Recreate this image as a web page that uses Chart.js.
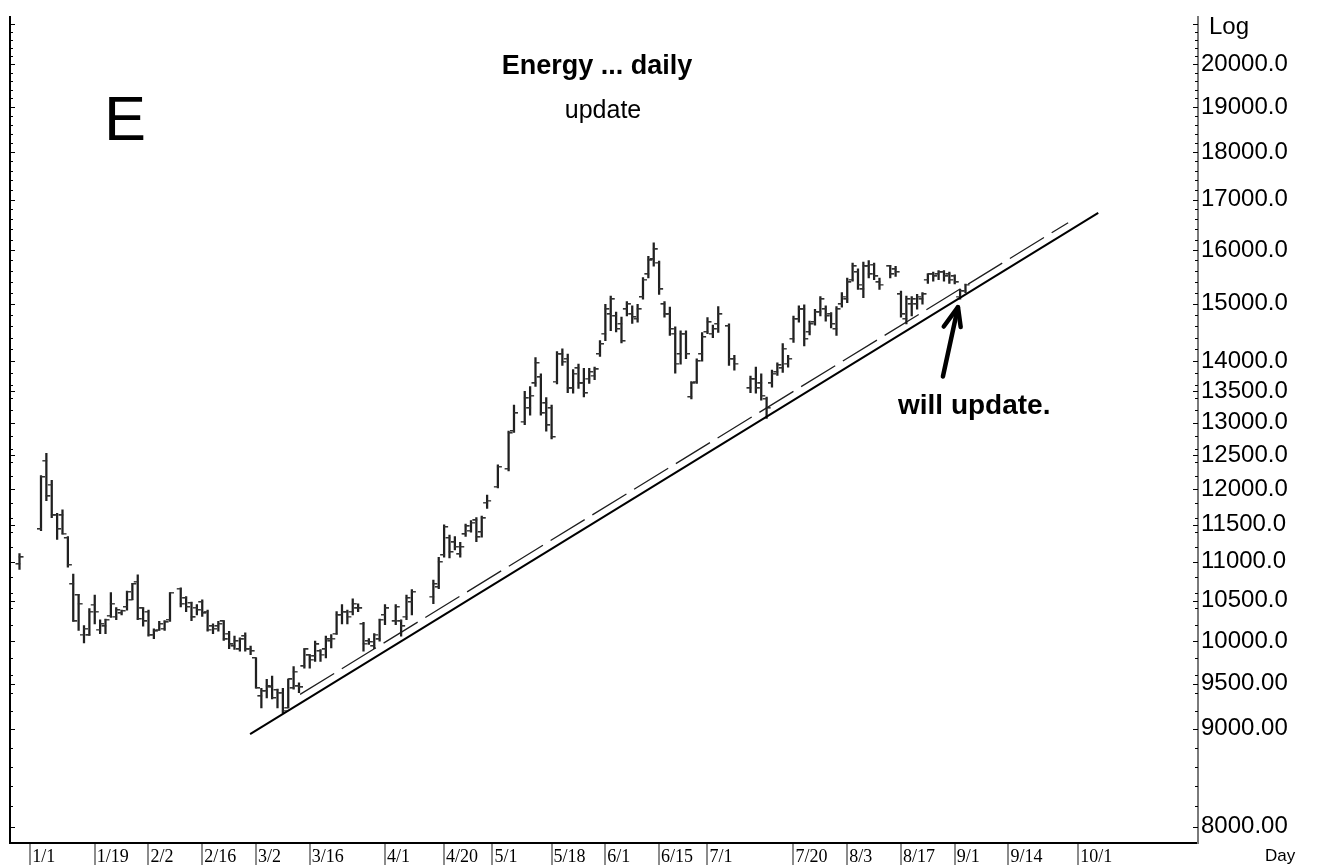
<!DOCTYPE html>
<html><head><meta charset="utf-8">
<script src="https://cdn.jsdelivr.net/npm/chart.js@4.4.1/dist/chart.umd.min.js"></script>
<style>html,body{margin:0;padding:0;background:#fff}canvas{display:block}</style>
</head><body>
<canvas id="c" width="1326" height="865"></canvas>
<script>
// ---- data (trading-day slot index, OHLC) ----
const slots = [0,4,5,6,7,8,9,10,11,12,13,14,15,16,17,18,19,20,21,22,23,24,25,26,27,28,30,31,32,33,34,35,36,37,38,39,40,41,42,43,44,45,46,47,48,49,50,51,52,53,54,55,56,57,58,59,60,61,62,63,64,65,66,67,68,70,71,72,73,77,78,79,80,81,82,83,84,85,86,87,89,91,92,94,95,96,97,98,99,100,101,102,103,104,105,106,107,108,109,110,111,112,113,114,115,116,117,118,119,120,121,122,123,124,125,126,127,128,129,130,132,133,136,137,138,139,140,141,142,143,144,145,146,147,148,149,150,151,152,153,154,155,156,157,158,159,160,162,163,164,165,166,167,168,169,170,171,172,173,174,175,176];
const highs = [11110,12200,12530,12130,11660,11710,11340,10840,10580,10190,10400,10570,10260,10270,10600,10410,10380,10620,10720,10830,10410,10380,10150,10240,10250,10600,10660,10550,10480,10450,10510,10380,10210,10240,10250,10120,10060,10040,10100,9940,9800,9450,9550,9590,9440,9450,9550,9700,9510,9910,9840,10000,9900,10060,10080,10360,10450,10380,10520,10460,10230,10030,10090,10270,10450,10450,10260,10570,10640,10760,11060,11500,11360,11340,11260,11510,11560,11600,11620,11920,12360,12870,13280,13500,13580,14060,13790,13400,13280,14160,14210,14120,13860,13950,13880,13880,13900,14350,14990,15140,14850,14760,15040,14960,14990,15480,15880,16140,15790,15040,14940,14590,14520,14520,13660,14040,14490,14750,14620,14950,14640,14100,13750,13900,13790,13410,13850,13970,14300,14100,14780,14960,14980,14690,14900,15130,14960,14840,14950,15200,15470,15750,15640,15770,15800,15750,15470,15710,15690,15230,15140,15130,15170,15200,15550,15580,15610,15610,15580,15530,15260,15360];
const lows = [10900,11420,11840,11600,11300,11370,10930,10240,10130,9980,10070,10210,10090,10090,10290,10260,10320,10380,10510,10260,10180,10060,10030,10130,10130,10240,10420,10360,10250,10320,10300,10120,10090,10120,10010,9910,9900,9880,9880,9840,9450,9230,9340,9330,9230,9170,9230,9440,9400,9680,9680,9760,9760,9800,9920,10080,10210,10210,10320,10360,9880,9960,9910,10000,10200,10200,10060,10260,10320,10460,10650,11060,11050,11160,11060,11340,11400,11270,11330,11730,12020,12270,12850,12970,13120,13580,13120,12870,12750,13620,13930,13480,13470,13550,13410,13630,13690,14080,14350,14520,14500,14310,14780,14650,14670,15080,15470,15690,15170,14760,14440,13800,13950,14040,13380,13630,14000,14470,14400,14490,13930,13850,13480,13470,13360,13070,13570,13760,13810,13900,14320,14670,14260,14450,14620,14780,14690,14570,14440,14940,15020,15410,15260,15110,15470,15440,15260,15470,15500,14760,14640,14780,14900,14990,15370,15410,15440,15410,15370,15360,15080,15200];
const opens = [10970,11440,12420,12070,11640,11630,11320,10710,10570,10080,10070,10450,10140,10180,10310,10300,10340,10420,10510,10740,10400,10360,10080,10140,10150,10260,10650,10530,10470,10410,10480,10360,10180,10180,10240,10090,9940,9900,10060,9910,9800,9360,9420,9460,9430,9400,9230,9450,9470,9700,9830,9820,9880,9900,10000,10090,10320,10360,10360,10400,10210,10000,9940,10020,10320,10240,10240,10300,10480,10550,10670,11090,11320,11260,11100,11370,11420,11560,11400,11810,12040,12300,12870,13020,13230,13630,13730,13310,13230,13660,14120,14040,13550,13880,13630,13710,13760,14120,14470,14810,14780,14640,14900,14810,14730,15120,15540,15820,15760,14990,14810,14470,14120,14470,13410,13660,14120,14500,14470,14640,14600,14040,13550,13710,13630,13380,13630,13820,13880,13960,14380,14730,14900,14500,14670,14850,14900,14810,14550,14990,15080,15440,15580,15260,15690,15720,15390,15690,15630,15170,14730,14990,14990,15080,15440,15540,15540,15580,15540,15500,15130,15240];
const closes = [11060,12180,11900,11630,11440,11380,10960,10240,10460,10150,10360,10360,10210,10260,10460,10380,10370,10610,10710,10270,10240,10080,10120,10210,10230,10600,10460,10420,10290,10380,10340,10140,10150,10210,10020,9960,10000,10020,9900,9880,9450,9420,9470,9340,9400,9200,9550,9640,9460,9900,9780,9960,9840,10020,10030,10320,10360,10300,10460,10400,9970,9990,10080,10260,10400,10420,10180,10530,10610,10710,11000,11470,11130,11200,11200,11480,11530,11330,11590,11840,12330,12840,13150,13390,13430,13970,13150,12960,12780,14120,13990,13550,13790,13630,13470,13820,13860,14290,14900,15080,14550,14340,14990,14760,14900,15440,15800,16010,15260,14810,14550,13960,14470,14120,13630,14000,14410,14670,14550,14810,14040,13960,13700,13550,13430,13230,13790,13930,14210,14040,14730,14900,14380,14640,14850,15080,14780,14640,14900,15130,15390,15690,15350,15690,15540,15500,15350,15540,15580,14810,15080,15080,15130,15170,15540,15500,15580,15500,15440,15390,15230,15350];

// axis ticks / labels
const xTickSlots = [2,14,24,34,44,54,68,79,88,99,109,119,128,144,154,164,174,184,197];
const xTickLabels = ['1/1','1/19','2/2','2/16','3/2','3/16','4/1','4/20','5/1','5/18','6/1','6/15','7/1','7/20','8/3','8/17','9/1','9/14','10/1'];
const yTickValues = [8000,9000,9500,10000,10500,11000,11500,12000,12500,13000,13500,14000,15000,16000,17000,18000,19000,20000];
const yTickLabels = ['8000.00','9000.00','9500.00','10000.0','10500.0','11000.0','11500.0','12000.0','12500.0','13000.0','13500.0','14000.0','15000.0','16000.0','17000.0','18000.0','19000.0','20000.0'];

// trend lines and arrow anchors (slot, value)
const trendSlots = [42.9, 200.7];
const trendValues = [8942, 16731];
const dashSlots = [52.2, 195.1];
const dashValues = [9380, 16534];
const arrowSlots = [171.8, 174.6];
const arrowValues = [13743, 14938];

// ---- styling helpers ----
const BAR = '#202020';
function tickImg(side){
  const c = document.createElement('canvas'); c.width = 12; c.height = 2;
  const g = c.getContext('2d'); g.fillStyle = '#303030';
  if (side === 'L') g.fillRect(2,0,4.5,1.5); else g.fillRect(5.5,0,4.5,1.5);
  return c;
}
const openImg = tickImg('L'), closeImg = tickImg('R');

const Y_MIN = 7846, Y_MAX = 21160, X_MIN = -1.767, X_MAX = 219.26;

const decor = {
  id: 'decor',
  afterDraw(chart){
    const ctx = chart.ctx, ca = chart.chartArea, ys = chart.scales.y, xs = chart.scales.x;
    ctx.save();
    // inward ticks on both vertical axes
    ctx.strokeStyle = '#000'; ctx.lineWidth = 1;
    for (let v = 7800; v <= 21200; v += 100) {
      if (v % 200 !== 0 && v !== 9500 && v !== 10500 && v !== 11500 && v !== 12500 && v !== 13500) continue;
      if (v < Y_MIN || v > Y_MAX) continue;
      const py = Math.round(ys.getPixelForValue(v)) + 0.5;
      const major = yTickValues.includes(v) || v === 21000;
      const len = major ? 5 : 3;
      ctx.beginPath();
      ctx.moveTo(ca.left, py); ctx.lineTo(ca.left + len, py);
      ctx.moveTo(ca.right - len, py); ctx.lineTo(ca.right, py);
      ctx.stroke();
    }
    // arrow
    const tx = xs.getPixelForValue(arrowSlots[1]), ty = ys.getPixelForValue(arrowValues[1]);
    const bx = xs.getPixelForValue(arrowSlots[0]), by = ys.getPixelForValue(arrowValues[0]);
    ctx.strokeStyle = '#000'; ctx.lineWidth = 4.5; ctx.lineCap = 'round'; ctx.lineJoin = 'round';
    ctx.beginPath(); ctx.moveTo(bx, by); ctx.lineTo(tx, ty); ctx.stroke();
    const ang = Math.atan2(by - ty, bx - tx);
    ctx.beginPath();
    ctx.moveTo(tx + 24*Math.cos(ang + 0.42), ty + 24*Math.sin(ang + 0.42));
    ctx.lineTo(tx, ty);
    ctx.lineTo(tx + 20*Math.cos(ang - 0.35), ty + 20*Math.sin(ang - 0.35));
    ctx.stroke();
    // texts
    ctx.fillStyle = '#000'; ctx.textBaseline = 'alphabetic';
    ctx.font = '63px "Liberation Sans", Arial, sans-serif'; ctx.textAlign = 'left';
    ctx.fillText('E', 104, 140);
    ctx.font = 'bold 27px "Liberation Sans", Arial, sans-serif'; ctx.textAlign = 'center';
    ctx.fillText('Energy ... daily', 597, 74);
    ctx.font = '25px "Liberation Sans", Arial, sans-serif';
    ctx.fillText('update', 603, 118);
    ctx.font = 'bold 28px "Liberation Sans", Arial, sans-serif'; ctx.textAlign = 'left';
    ctx.fillText('will update.', 898, 414);
    ctx.font = '24px "Liberation Sans", Arial, sans-serif';
    ctx.fillText('Log', 1209, 34);
    ctx.font = '17px "Liberation Sans", Arial, sans-serif';
    ctx.fillText('Day', 1265, 861);
    ctx.restore();
  }
};

new Chart(document.getElementById('c'), {
  type: 'bar',
  data: {
    datasets: [
      { type: 'line', data: trendSlots.map((s,i)=>({x:s, y:trendValues[i]})), borderColor:'#000', borderWidth:2, pointRadius:0, yAxisID:'y' },
      { type: 'line', data: dashSlots.map((s,i)=>({x:s, y:dashValues[i]})), borderColor:'#1e1e1e', borderWidth:1.3, borderDash:[40,9], pointRadius:0, yAxisID:'y' },
      { type: 'scatter', data: slots.map((s,i)=>({x:s, y:opens[i]})), pointStyle: openImg, pointRadius: 5, yAxisID:'y' },
      { type: 'scatter', data: slots.map((s,i)=>({x:s, y:closes[i]})), pointStyle: closeImg, pointRadius: 5, yAxisID:'y' },
      { type: 'bar', data: slots.map((s,i)=>({x:s, y:[lows[i], highs[i]]})), backgroundColor: BAR, borderWidth: 0, barThickness: 1.6, yAxisID:'y' }
    ]
  },
  options: {
    responsive: false, animation: false, devicePixelRatio: 1,
    layout: { padding: { left: 10, top: 11, right: 0, bottom: 0 } },
    plugins: { legend: { display: false }, title: { display: false }, tooltip: { enabled: false } },
    events: [],
    scales: {
      x: {
        type: 'linear', position: 'bottom', min: X_MIN, max: X_MAX, offset: false,
        afterBuildTicks: (s) => { s.ticks = xTickSlots.map(v => ({ value: v })); },
        afterFit: (s) => { s.height = 22; },
        border: { display: true, color: '#000', width: 2 },
        grid: { offset: false, drawOnChartArea: false, drawTicks: true, tickLength: 22, color: '#8c8c8c', lineWidth: 2 },
        ticks: { autoSkip: false, maxRotation: 0, minRotation: 0, align: 'start', labelOffset: 2, padding: -19,
                 color: '#000', font: { family: '"Liberation Serif", "Times New Roman", serif', size: 18 },
                 callback: (v, i) => xTickLabels[i] }
      },
      y: {
        type: 'logarithmic', position: 'right', min: Y_MIN, max: Y_MAX,
        afterBuildTicks: (s) => { s.ticks = yTickValues.map(v => ({ value: v })); },
        afterFit: (s) => { s.width = 128; },
        border: { display: true, color: '#7a7a7a', width: 2 },
        grid: { display: false, drawTicks: false },
        ticks: { autoSkip: false, padding: 3, color: '#000', font: { family: '"Liberation Sans", Arial, sans-serif', size: 24 },
                 callback: (v, i) => yTickLabels[i] }
      },
      yl: {
        type: 'logarithmic', position: 'left', min: Y_MIN, max: Y_MAX,
        afterFit: (s) => { s.width = 0; },
        border: { display: true, color: '#000', width: 2 },
        grid: { display: false, drawTicks: false },
        ticks: { display: false }
      }
    }
  },
  plugins: [decor]
});
</script>
</body></html>
